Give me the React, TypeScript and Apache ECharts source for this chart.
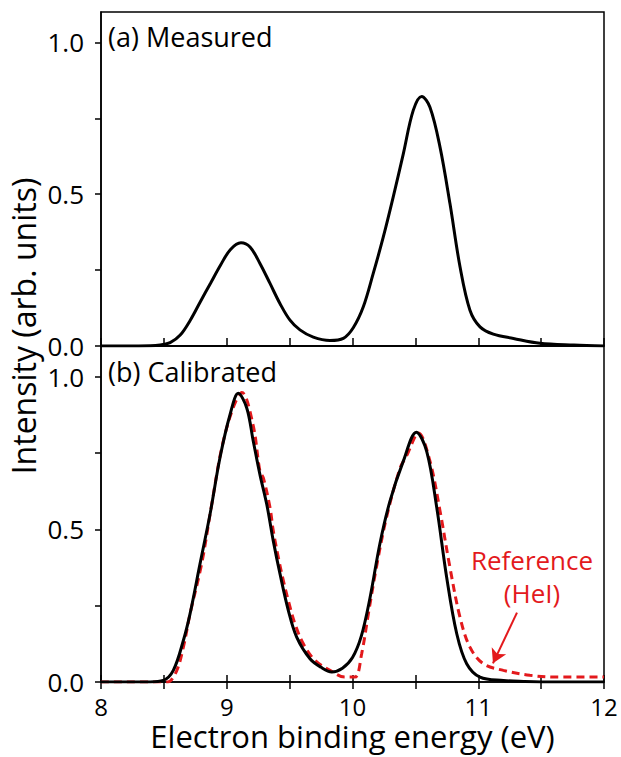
import React, { useEffect, useRef } from "react";
import * as echarts from "echarts";

// Panel (a) measured spectrum
const measuredX = [8.0, 8.3, 8.47, 8.55, 8.63, 8.71, 8.79, 8.87, 8.95, 9.03, 9.113, 9.185, 9.264, 9.344, 9.423, 9.503, 9.582, 9.688, 9.821, 9.927, 10.006, 10.086, 10.165, 10.245, 10.324, 10.404, 10.483, 10.55, 10.616, 10.696, 10.775, 10.855, 10.934, 11.014, 11.12, 11.28, 11.49, 11.76, 12.0];
const measuredY = [0, 0, 0.003, 0.011, 0.036, 0.085, 0.146, 0.206, 0.266, 0.318, 0.34, 0.326, 0.272, 0.206, 0.14, 0.085, 0.053, 0.029, 0.018, 0.025, 0.06, 0.129, 0.239, 0.359, 0.491, 0.633, 0.776, 0.822, 0.786, 0.655, 0.469, 0.261, 0.118, 0.063, 0.039, 0.025, 0.009, 0.003, 0];

// Panel (b) calibrated spectrum
const calibratedX = [8.0, 8.39, 8.495, 8.575, 8.655, 8.708, 8.787, 8.867, 8.946, 9.026, 9.092, 9.159, 9.211, 9.264, 9.318, 9.37, 9.424, 9.49, 9.556, 9.662, 9.75, 9.835, 9.92, 10.0, 10.07, 10.139, 10.219, 10.298, 10.404, 10.508, 10.59, 10.67, 10.749, 10.829, 10.908, 11.014, 11.2, 11.36, 11.6, 12.0];
const calibratedY = [0, 0, 0.005, 0.038, 0.136, 0.223, 0.386, 0.549, 0.734, 0.875, 0.945, 0.897, 0.788, 0.679, 0.582, 0.462, 0.353, 0.234, 0.147, 0.076, 0.048, 0.033, 0.045, 0.08, 0.15, 0.275, 0.455, 0.592, 0.723, 0.818, 0.755, 0.571, 0.342, 0.158, 0.06, 0.016, 0.005, 0.002, 0, 0];

// Panel (b) reference (HeI) spectrum
const referenceX = [8.0, 8.5, 8.53, 8.6, 8.655, 8.708, 8.8, 8.88, 8.96, 9.05, 9.12, 9.21, 9.264, 9.291, 9.344, 9.37, 9.41, 9.45, 9.49, 9.543, 9.609, 9.702, 9.821, 9.94, 10.02, 10.073, 10.126, 10.19, 10.27, 10.378, 10.43, 10.525, 10.616, 10.696, 10.775, 10.855, 10.934, 11.04, 11.2, 11.41, 11.62, 12.0];
const referenceY = [0, 0, 0, 0.035, 0.114, 0.223, 0.386, 0.58, 0.766, 0.897, 0.948, 0.84, 0.69, 0.668, 0.571, 0.495, 0.408, 0.332, 0.266, 0.19, 0.125, 0.071, 0.038, 0.016, 0.016, 0.093, 0.223, 0.375, 0.538, 0.7, 0.74, 0.815, 0.723, 0.56, 0.375, 0.212, 0.114, 0.06, 0.038, 0.022, 0.016, 0.016];

// Axes ticks and labels
const xTickValues = [8, 8.5, 9, 9.5, 10, 10.5, 11, 11.5, 12];
const xLabelValues = [8, 9, 10, 11, 12];
const yTickValues = [0, 0.25, 0.5, 0.75, 1.0];
const yLabelValues = [0, 0.5, 1.0];

// Annotation arrow (data coordinates in panel b)
const arrowFrom = [11.308, 0.227];
const arrowTo = [11.117, 0.061];

const zip = (xs: number[], ys: number[]) => xs.map((x, i) => [x, ys[i]]);

const FONT = '"Open Sans", "Noto Sans", sans-serif';
const RED = "#e3191c";

export default function App() {
  const ref = useRef<HTMLDivElement>(null);
  useEffect(() => {
    if (!ref.current) return;
    const chart = echarts.init(ref.current, undefined, { renderer: "svg" });

    const yAxisBase = (gridIndex: number) => ({
      type: "value",
      gridIndex,
      min: 0,
      max: 1.1,
      axisLine: { show: true, lineStyle: { color: "#000", width: 1.5 } },
      axisTick: { show: true, inside: false, length: 6, customValues: yTickValues, lineStyle: { color: "#000", width: 1.5 } },
      axisLabel: {
        customValues: yLabelValues,
        formatter: (v: number) => v.toFixed(1),
        fontSize: 26,
        color: "#000",
        fontFamily: FONT,
        margin: 17,
      },
      splitLine: { show: false },
    });

    const option: any = {
      animation: false,
      textStyle: { fontFamily: FONT },
      grid: [
        { left: 101, top: 12, width: 503, height: 334, show: true, borderColor: "#000", borderWidth: 1.5, containLabel: false },
        { left: 101, top: 346, width: 503, height: 336, show: true, borderColor: "#000", borderWidth: 1.5, containLabel: false },
      ],
      xAxis: [
        {
          type: "value",
          gridIndex: 0,
          min: 8,
          max: 12,
          axisLine: { show: true, lineStyle: { color: "#000", width: 1.5 } },
          axisTick: { show: true, inside: true, length: 8, customValues: xTickValues, lineStyle: { color: "#000", width: 1.5 } },
          axisLabel: { show: false },
          splitLine: { show: false },
        },
        {
          type: "value",
          gridIndex: 1,
          position: "bottom",
          min: 8,
          max: 12,
          axisLine: { show: true, lineStyle: { color: "#000", width: 1.5 } },
          axisTick: { show: true, inside: false, length: 7, customValues: xTickValues, lineStyle: { color: "#000", width: 1.5 } },
          axisLabel: {
            customValues: xLabelValues,
            fontSize: 24,
            lineHeight: 20,
            color: "#000",
            fontFamily: FONT,
            margin: 14,
          },
          splitLine: { show: false },
          name: "Electron binding energy (eV)",
          nameLocation: "middle",
          nameGap: 38,
          nameTextStyle: { fontSize: 31, lineHeight: 31, color: "#000", fontFamily: FONT },
        },
        {
          type: "value",
          gridIndex: 1,
          position: "bottom",
          offset: 0,
          min: 8,
          max: 12,
          axisLine: { show: false },
          axisTick: { show: true, inside: true, length: 7, customValues: xTickValues, lineStyle: { color: "#000", width: 1.5 } },
          axisLabel: { show: false },
          splitLine: { show: false },
        },
      ],
      yAxis: [yAxisBase(0), yAxisBase(1)],
      series: [
        {
          type: "line",
          xAxisIndex: 0,
          yAxisIndex: 0,
          data: zip(measuredX, measuredY),
          smooth: 0.35,
          showSymbol: false,
          symbol: "none",
          lineStyle: { color: "#000", width: 3 },
          z: 3,
        },
        {
          type: "line",
          xAxisIndex: 1,
          yAxisIndex: 1,
          data: zip(referenceX, referenceY),
          smooth: 0.35,
          showSymbol: false,
          symbol: "none",
          lineStyle: { color: RED, width: 3, type: [8, 5] },
          z: 2,
          markLine: {
            silent: true,
            symbol: ["none", "arrow"],
            symbolSize: [12, 14],
            label: { show: false },
            lineStyle: { color: RED, width: 2, type: "solid" },
            data: [[{ coord: arrowFrom }, { coord: arrowTo }]],
          },
        },
        {
          type: "line",
          xAxisIndex: 1,
          yAxisIndex: 1,
          data: zip(calibratedX, calibratedY),
          smooth: 0.35,
          showSymbol: false,
          symbol: "none",
          lineStyle: { color: "#000", width: 3 },
          z: 3,
        },
      ],
      graphic: [
        {
          type: "text",
          x: 23,
          y: 326,
          rotation: Math.PI / 2,
          style: { text: "Intensity (arb. units)", fill: "#000", font: `32px ${FONT}`, align: "center", verticalAlign: "middle" },
        },
        {
          type: "text",
          x: 108,
          y: 36,
          style: { text: "(a) Measured", fill: "#000", font: `27px ${FONT}`, align: "left", verticalAlign: "middle" },
        },
        {
          type: "text",
          x: 108,
          y: 371,
          style: { text: "(b) Calibrated", fill: "#000", font: `27px ${FONT}`, align: "left", verticalAlign: "middle" },
        },
        {
          type: "text",
          x: 532,
          y: 560,
          style: { text: "Reference", fill: RED, font: `26px ${FONT}`, align: "center", verticalAlign: "middle" },
        },
        {
          type: "text",
          x: 532,
          y: 593,
          style: { text: "(HeI)", fill: RED, font: `26px ${FONT}`, align: "center", verticalAlign: "middle" },
        },
      ],
    };
    chart.setOption(option);
    return () => chart.dispose();
  }, []);
  return (
    <div
      ref={ref}
      style={{ position: "fixed", left: 0, top: 0, width: 621, height: 757, background: "#fff" }}
    />
  );
}
